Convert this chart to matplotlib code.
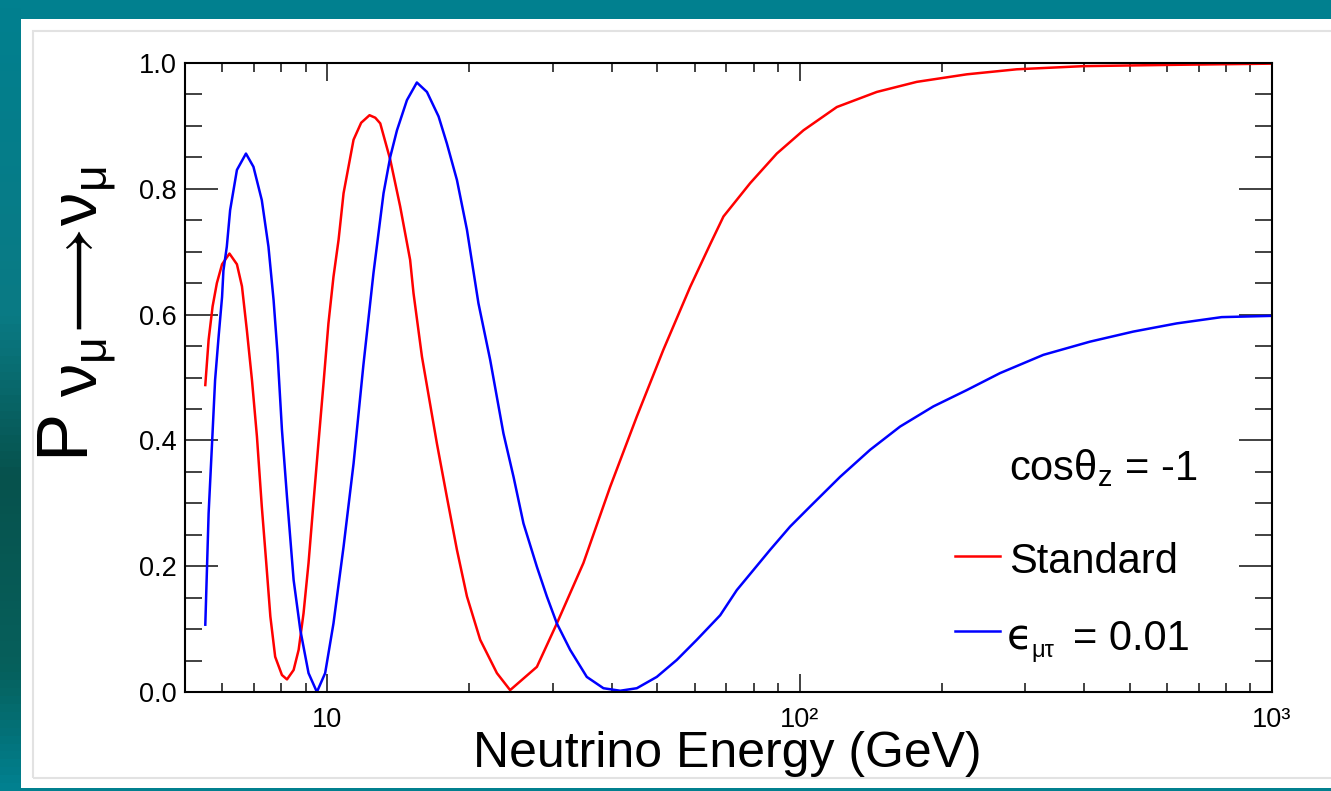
import numpy as np
import matplotlib.pyplot as plt
from matplotlib.patches import Rectangle
from matplotlib.lines import Line2D
from matplotlib.colors import LinearSegmentedColormap
from matplotlib.ticker import FixedLocator, FixedFormatter, NullFormatter

plt.rcParams['font.family'] = ['Liberation Sans', 'DejaVu Sans']
plt.rcParams['mathtext.fontset'] = 'custom'
plt.rcParams['mathtext.rm'] = 'Liberation Sans'
plt.rcParams['mathtext.it'] = 'Liberation Sans:italic'
plt.rcParams['mathtext.bf'] = 'Liberation Sans:bold'
plt.rcParams['mathtext.fallback'] = 'stixsans'

# standard oscillation, cos(theta_z) = -1
energy_std = [5.52, 5.61, 5.72, 5.84, 5.99, 6.21, 6.44, 6.60, 6.76, 6.93, 7.10, 7.27,
              7.43, 7.58, 7.76, 8.02, 8.22, 8.49, 8.70, 8.91, 9.13, 9.35, 9.58, 9.82,
              10.06, 10.31, 10.57, 10.83, 11.37, 11.80, 12.29, 12.64, 12.95, 13.60,
              14.27, 14.98, 15.23, 15.87, 17.07, 17.92, 18.82, 19.76, 21.08, 22.87,
              24.39, 27.79, 30.63, 34.86, 39.71, 45.23, 51.47, 58.66, 64.68, 69.00,
              78.59, 89.48, 101.9, 119.9, 145.7, 177.0, 225.9, 288.2, 398.7, 608.2,
              1000.0]
prob_std = [0.488, 0.56, 0.613, 0.65, 0.68, 0.697, 0.68, 0.645, 0.575, 0.496, 0.406, 0.295,
            0.205, 0.12, 0.056, 0.027, 0.02, 0.035, 0.067, 0.125, 0.205, 0.30, 0.395, 0.49,
            0.586, 0.66, 0.719, 0.793, 0.878, 0.905, 0.917, 0.913, 0.904, 0.846,
            0.772, 0.687, 0.634, 0.533, 0.395, 0.31, 0.226, 0.152, 0.083, 0.03,
            0.003, 0.04, 0.109, 0.205, 0.326, 0.438, 0.544, 0.644, 0.712, 0.756,
            0.809, 0.856, 0.893, 0.93, 0.954, 0.97, 0.982, 0.99, 0.995, 0.997,
            0.999]

# NSI, eps_mu_tau = 0.01
energy_nsi = [5.52, 5.61, 5.70, 5.79, 5.89, 5.99, 6.03, 6.13, 6.23, 6.44, 6.73, 6.98,
              7.27, 7.51, 7.70, 7.85, 8.02, 8.22, 8.49, 8.77, 9.13, 9.51, 9.90, 10.31,
              10.83, 11.37, 11.93, 12.53, 13.16, 13.60, 14.05, 14.75, 15.48, 16.26,
              17.21, 17.92, 18.82, 19.76, 20.90, 22.13, 23.61, 24.80, 26.03, 27.79,
              29.17, 30.63, 32.68, 35.44, 38.44, 41.70, 45.23, 49.85, 54.96, 60.59,
              67.90, 73.63, 79.86, 86.61, 95.48, 105.3, 121.8, 141.0, 163.2, 191.9,
              225.9, 265.7, 328.1, 411.9, 508.7, 628.4, 782.6, 1000.0]
prob_nsi = [0.107, 0.284, 0.39, 0.496, 0.565, 0.628, 0.67, 0.708, 0.766, 0.83, 0.856, 0.835,
            0.782, 0.708, 0.623, 0.538, 0.417, 0.31, 0.178, 0.099, 0.03, 0.0, 0.03, 0.109,
            0.231, 0.363, 0.52, 0.666, 0.793, 0.851, 0.893, 0.941, 0.969, 0.954,
            0.915, 0.872, 0.814, 0.735, 0.618, 0.528, 0.411, 0.342, 0.268, 0.199,
            0.152, 0.109, 0.067, 0.024, 0.006, 0.002, 0.006, 0.024, 0.051, 0.083,
            0.122, 0.162, 0.194, 0.226, 0.263, 0.295, 0.342, 0.385, 0.422, 0.454,
            0.48, 0.507, 0.536, 0.557, 0.573, 0.586, 0.596, 0.598]

x_major = [10, 100, 1000]
x_major_labels = ['10', '10\u00b2', '10\u00b3']
x_minor = [6, 7, 8, 9, 20, 30, 40, 50, 60, 70, 80, 90,
           200, 300, 400, 500, 600, 700, 800, 900]
y_major = [0.0, 0.2, 0.4, 0.6, 0.8, 1.0]
y_minor = [0.05 * i for i in range(21)]

W, H = 1331, 791


def fx(px):
    return px / W


def fy(py):
    return 1 - py / H


fig = plt.figure(figsize=(W / 100, H / 100), dpi=100)
fig.patch.set_facecolor('#01808f')

# slide background strip on the left
strip = fig.add_axes([0, 0, fx(21), 1], zorder=-5)
cmap = LinearSegmentedColormap.from_list(
    'strip', [(0, '#01808f'), (0.4, '#0a7a84'), (0.6, '#06524d'),
              (0.85, '#06605c'), (1, '#01808f')])
strip.imshow(np.linspace(0, 1, 100).reshape(-1, 1), aspect='auto', cmap=cmap)
strip.set_axis_off()

# white canvas with light inner frame
fig.patches.append(Rectangle((fx(21), fy(788)), 1 - fx(21), fy(19) - fy(788),
                             transform=fig.transFigure, facecolor='white',
                             edgecolor='none', zorder=-3))
fig.patches.append(Rectangle((fx(33), fy(778)), 1 - fx(33) + 0.01, fy(31) - fy(778),
                             transform=fig.transFigure, facecolor='none',
                             edgecolor='#e2e2e2', linewidth=1.5, zorder=-2))

ax = fig.add_axes([fx(185), fy(692), fx(1272) - fx(185), fy(63) - fy(692)])
ax.plot(energy_std, prob_std, color='#ff0000', linewidth=1.8)
ax.plot(energy_nsi, prob_nsi, color='#0000ff', linewidth=1.8)

ax.set_xscale('log')
ax.set_xlim(5, 1000)
ax.set_ylim(0, 1)
ax.xaxis.set_major_locator(FixedLocator(x_major))
ax.xaxis.set_major_formatter(FixedFormatter(x_major_labels))
ax.xaxis.set_minor_locator(FixedLocator(x_minor))
ax.xaxis.set_minor_formatter(NullFormatter())
ax.yaxis.set_major_locator(FixedLocator(y_major))
ax.yaxis.set_major_formatter(FixedFormatter(['%.1f' % v for v in y_major]))
ax.yaxis.set_minor_locator(FixedLocator(y_minor))

ax.tick_params(which='both', direction='in', top=True, right=True,
               color='#333333', width=1.3, labelsize=19.5)
ax.tick_params(axis='x', which='major', length=13, pad=11)
ax.tick_params(axis='x', which='minor', length=6.5)
ax.tick_params(axis='y', which='major', length=24, pad=6)
ax.tick_params(axis='y', which='minor', length=12)
for spine in ax.spines.values():
    spine.set_linewidth(1.5)

# axis titles
fig.text(fx(727), fy(767), 'Neutrino Energy (GeV)', fontsize=36,
         ha='center', va='baseline')
fig.text(fx(64), fy(432), 'P', fontsize=52, rotation=90, ha='center', va='center')
fig.text(fx(87), fy(282), r'$\mathregular{\nu_{\mu}\!\longrightarrow\!\nu_{\mu}}$',
         fontsize=48, rotation=90, ha='center', va='center')

# legend
fs = 30
fig.text(fx(1009), fy(480), r'cos$\mathregular{\theta_{z}}$ = -1', fontsize=fs,
         ha='left', va='baseline')
fig.lines.append(Line2D([fx(955), fx(1000)], [fy(556), fy(556)],
                        transform=fig.transFigure, color='#ff0000', linewidth=1.8))
fig.text(fx(1009), fy(573), 'Standard', fontsize=fs, ha='left', va='baseline')
fig.lines.append(Line2D([fx(955), fx(1000)], [fy(631), fy(631)],
                        transform=fig.transFigure, color='#0000ff', linewidth=1.8))
fig.text(fx(1007), fy(650), '\u03f5', fontsize=fs, family=['DejaVu Sans'],
         ha='left', va='baseline')
fig.text(fx(1031), fy(657), '\u03bc\u03c4', fontsize=17, ha='left', va='baseline')
fig.text(fx(1073), fy(650), '= 0.01', fontsize=fs, ha='left', va='baseline')

fig.savefig('out.png', dpi=100, facecolor=fig.get_facecolor())
